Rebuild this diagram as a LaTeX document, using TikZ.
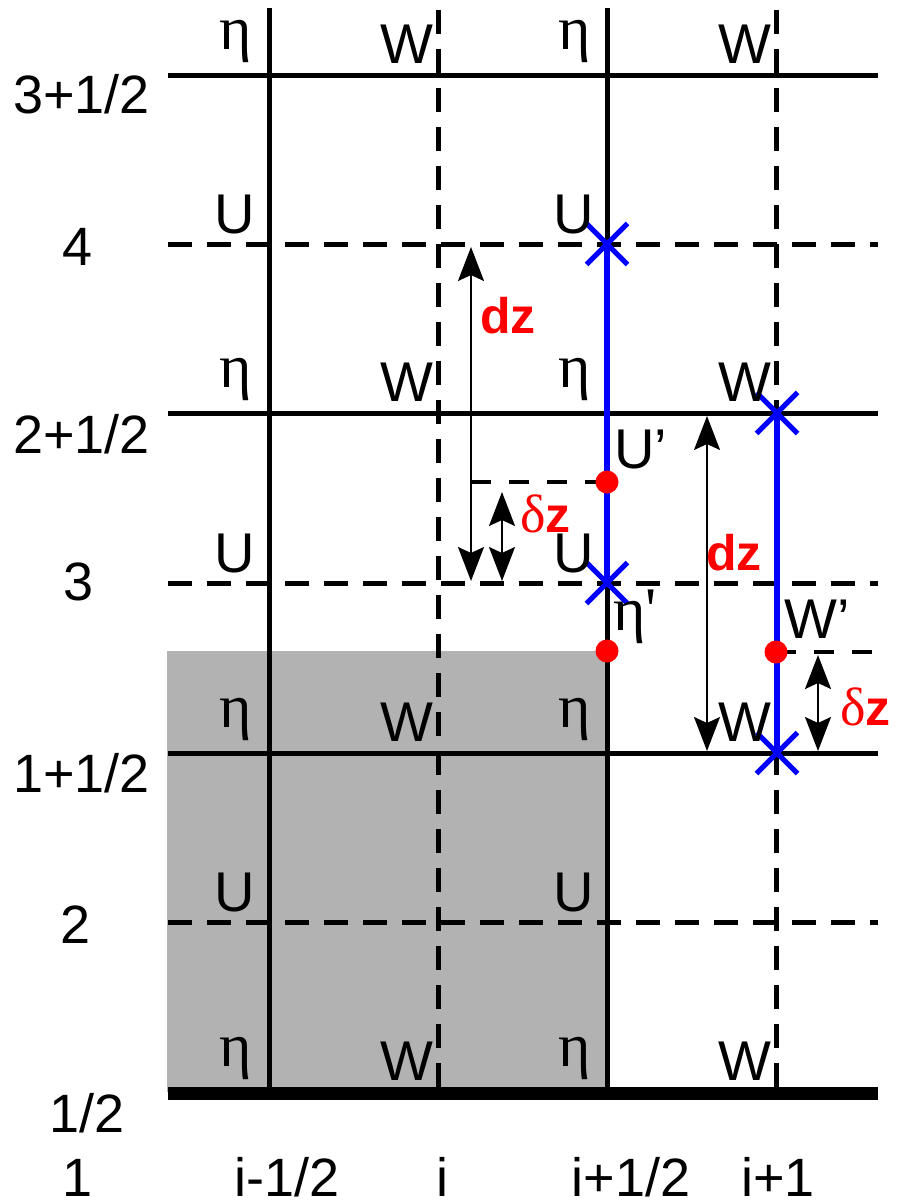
\documentclass[tikz,border=0pt]{standalone}
\usepackage{fontspec}
\setmainfont{Liberation Sans}
\newfontfamily\grfont{Liberation Serif}
\usetikzlibrary{arrows.meta,shapes.misc}
\newcommand\axfont{\fontsize{54}{60}\selectfont}
\newcommand\lbfont{\fontsize{56}{62}\selectfont}
\newcommand\etfont{\grfont\fontsize{62}{68}\selectfont}
\newcommand\rdfont{\fontsize{50}{56}\selectfont\bfseries}
\newcommand\dlt{{\grfont\fontsize{54}{60}\selectfont\mdseries δ}}
\tikzset{
  gridsolid/.style={line width=5pt},
  griddash/.style={line width=5pt, dash pattern=on 24pt off 15pt},
  shortdash/.style={line width=4pt, dash pattern=on 20pt off 18pt},
  axlab/.style={font=\axfont, inner sep=0pt, anchor=base},
  axlabr/.style={font=\axfont, inner sep=0pt, anchor=base east},
  lab/.style={font=\lbfont, inner sep=0pt, anchor=base east},
  etalab/.style={font=\etfont, inner sep=0pt, anchor=base east},
  primelab/.style={font=\lbfont, inner sep=0pt, anchor=base west},
  redlab/.style={font=\rdfont, text=red, inner sep=0pt, anchor=base west},
  dimarrow/.style={line width=2pt, {Stealth[length=34pt,width=26pt,inset=6pt]}-{Stealth[length=34pt,width=26pt,inset=6pt]}},
  blueline/.style={draw=blue, line width=6pt},
  bluecross/.style={cross out, draw=blue, line width=5pt, minimum size=36pt, inner sep=0pt},
  reddot/.style={circle, fill=red, minimum size=23pt, inner sep=0pt},
}
\begin{document}
\begin{tikzpicture}[x=1pt,y=-1pt]
\useasboundingbox (0,0) rectangle (897,1202);
% gray region
\fill[black!30] (167,651) rectangle (607,1092);
% horizontal lines
\draw[gridsolid] (168,75) -- (878,75);
\draw[griddash] (168,244) -- (878,244);
\draw[gridsolid] (168,413) -- (878,413);
\draw[griddash] (168,583) -- (878,583);
\draw[gridsolid] (168,753) -- (878,753);
\draw[griddash] (168,922) -- (878,922);
\draw[line width=13pt] (168,1093) -- (878,1093);
% vertical lines
\draw[gridsolid] (269,8) -- (269,1092);
\draw[griddash] (438,10) -- (438,1092);
\draw[gridsolid] (607,8) -- (607,1092);
\draw[griddash] (776,10) -- (776,1092);
% short dashed lines
\coordinate (dzA) at (471,482);
\coordinate (dzAe) at (596,482);
\coordinate (dzB) at (776,652);
\coordinate (dzBe) at (878,652);
\draw[shortdash] (dzA) -- (dzAe);
\draw[shortdash] (dzB) -- (dzBe);
% blue lines and markers
\coordinate (p1) at (607,244);
\coordinate (p2) at (607,583);
\coordinate (p3) at (777,413);
\coordinate (p4) at (777,753);
\draw[blueline] (p1) -- (p2);
\draw[blueline] (p3) -- (p4);
\node[bluecross] (c1) at (p1) {};
\node[bluecross] (c2) at (p2) {};
\node[bluecross] (c3) at (p3) {};
\node[bluecross] (c4) at (p4) {};
\node[reddot] (d1) at (607,482) {};
\node[reddot] (d2) at (607,651) {};
\node[reddot] (d3) at (776,652) {};
% dimension arrows
\coordinate (a1t) at (471,247);
\coordinate (a1b) at (471,581);
\coordinate (a2t) at (502,492);
\coordinate (a2b) at (502,581);
\coordinate (a3t) at (707,416);
\coordinate (a3b) at (707,751);
\coordinate (a4t) at (818,655);
\coordinate (a4b) at (818,751);
\draw[dimarrow] (a1t) -- (a1b);
\draw[dimarrow] (a2t) -- (a2b);
\draw[dimarrow] (a3t) -- (a3b);
\draw[dimarrow] (a4t) -- (a4b);
% red labels
\node[redlab] (dz1) at (480,333) {dz};
\node[redlab] (dl1) at (520,532) {\dlt z};
\node[redlab] (dz2) at (706,570) {dz};
\node[redlab] (dl2) at (840,725) {\dlt z};
% grid labels
\foreach \yy/\nm in {75/a,413/b,753/c,1092/d}{
  \node[etalab] (e1\nm) at (252,\yy-26) {η};
  \node[lab] (w1\nm) at (434,\yy-12) {W};
  \node[etalab] (e2\nm) at (591,\yy-26) {η};
  \node[lab] (w2\nm) at (772,\yy-12) {W};
}
\foreach \yy/\nm in {244/a,583/b,922/c}{
  \node[lab] (u1\nm) at (255,\yy-11) {U};
  \node[lab] (u2\nm) at (594,\yy-11) {U};
}
\node[primelab] (up) at (614,468) {U'};
\node[primelab, font=\etfont] (ep) at (613,630) {η'};
\node[primelab] (wp) at (784,638) {W'};
% axis labels
\node[axlabr] (y1) at (150,113) {3+1/2};
\node[axlab] (y2) at (78,265) {4};
\node[axlabr] (y3) at (150,453) {2+1/2};
\node[axlab] (y4) at (79,600) {3};
\node[axlabr] (y5) at (150,792) {1+1/2};
\node[axlab] (y6) at (76,943) {2};
\node[axlab] (y7) at (87,1132) {1/2};
\node[axlab] (x0) at (78,1196) {1};
\node[axlab] (x1) at (287,1196) {i-1/2};
\node[axlab] (x2) at (442,1196) {i};
\node[axlab] (x3) at (631,1196) {i+1/2};
\node[axlab] (x4) at (778,1196) {i+1};
\end{tikzpicture}
\end{document}
